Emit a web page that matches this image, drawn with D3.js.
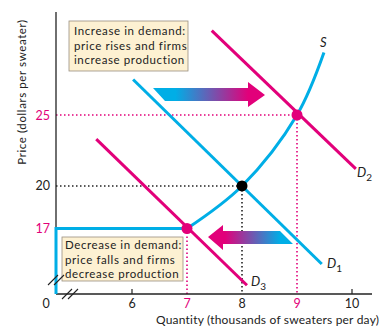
<!DOCTYPE html>
<html>
<head>
<meta charset="utf-8">
<script src="https://cdn.jsdelivr.net/npm/d3@7"></script>
<style>
  html, body { margin: 0; padding: 0; background: #fff; }
  svg { display: block; }
  text { font-family: Lato, "Open Sans", sans-serif; }
  .wide { letter-spacing: 0.6px; }
</style>
</head>
<body>
<svg id="chart" width="380" height="327"></svg>
<script>
// ---- data ----
const quantityTicks = [6, 7, 8, 9, 10];
const quantityTickColors = ["#222", "#e2007a", "#222", "#e2007a", "#222"];
const priceTicks = [17, 20, 25];
const priceTickColors = ["#e2007a", "#222", "#e2007a"];

// supply curve S
const supplyQ = [7, 8, 9, 9.49];
const supplyP = [17, 20, 25, 29.4];

// demand curves (end points)
const d1Q = [6.02, 9.45];
const d1P = [27.5, 14.5];
const d2Q = [7.45, 10.07];
const d2P = [30.95, 21.2];
const d3Q = [5.35, 8.09];
const d3P = [23.3, 13.0];

// equilibria
const eqQ = [8, 9, 7];
const eqP = [20, 25, 17];
const eqColors = ["#000", "#e2007a", "#e2007a"];

const boxUpper = ["Increase in demand:", "price rises and firms", "increase production"];
const boxLower = ["Decrease in demand:", "price falls and firms", "decrease production"];

// ---- layout ----
const BLUE = "#00aee6", MAG = "#e2007a";
const originX = 56, originY = 294, topY = 12, rightX = 372;

const svg = d3.select("#chart");
const x = d3.scaleLinear().domain([6, 10]).range([132, 352]);
const y = d3.scaleLinear().domain([17, 25]).range([228.5, 115]);

const defs = svg.append("defs");
function grad(id, c0, c1) {
  const g = defs.append("linearGradient").attr("id", id)
    .attr("x1", "0%").attr("x2", "100%").attr("y1", "0%").attr("y2", "0%");
  g.append("stop").attr("offset", "0%").attr("stop-color", c0);
  g.append("stop").attr("offset", "20%").attr("stop-color", c0);
  g.append("stop").attr("offset", "85%").attr("stop-color", c1);
  g.append("stop").attr("offset", "100%").attr("stop-color", c1);
}
grad("gRight", BLUE, MAG);
grad("gLeft", MAG, BLUE);

// ---- dotted guide lines ----
const guides = svg.append("g");
eqQ.forEach((q, i) => {
  const col = eqColors[i] === "#000" ? "#222" : MAG;
  if (q !== 7) {
    guides.append("line")
      .attr("x1", originX).attr("x2", x(q))
      .attr("y1", y(eqP[i])).attr("y2", y(eqP[i]))
      .attr("stroke", col).attr("stroke-width", 1.6).attr("stroke-dasharray", "1.5,2.5");
  }
  guides.append("line")
    .attr("x1", x(q)).attr("x2", x(q))
    .attr("y1", y(eqP[i])).attr("y2", originY)
    .attr("stroke", col).attr("stroke-width", 1.6).attr("stroke-dasharray", "1.5,2.5");
});

// ---- axes ----
svg.append("line").attr("x1", originX).attr("x2", originX)
  .attr("y1", topY).attr("y2", originY).attr("stroke", "#222").attr("stroke-width", 1.3);
svg.append("line").attr("x1", originX).attr("x2", rightX)
  .attr("y1", originY).attr("y2", originY).attr("stroke", "#222").attr("stroke-width", 1.3);

// small ticks at 6 and 10
[6, 10].forEach(q => {
  svg.append("line").attr("x1", x(q)).attr("x2", x(q))
    .attr("y1", originY - 5).attr("y2", originY).attr("stroke", "#222").attr("stroke-width", 1.2);
});

quantityTicks.forEach((q, i) => {
  svg.append("text").attr("x", x(q)).attr("y", 308)
    .attr("text-anchor", "middle").attr("font-size", 12.5)
    .attr("fill", quantityTickColors[i]).text(q);
});
svg.append("text").attr("x", 46).attr("y", 308)
  .attr("text-anchor", "middle").attr("font-size", 12.5).attr("fill", "#222").text("0");

priceTicks.forEach((p, i) => {
  svg.append("text").attr("x", 50).attr("y", y(p) + 4.5)
    .attr("text-anchor", "end").attr("font-size", 12.5)
    .attr("fill", priceTickColors[i]).text(p);
});

svg.append("text").attr("x", 156).attr("y", 324)
  .attr("font-size", 12).attr("fill", "#222").style("letter-spacing", "0.2px")
  .text("Quantity (thousands of sweaters per day)");
svg.append("text").attr("class", "wide")
  .attr("transform", "translate(26,92) rotate(-90)")
  .attr("text-anchor", "middle").attr("font-size", 11.5).attr("fill", "#222")
  .text("Price (dollars per sweater)");

// ---- lower text box with blue frame ----
svg.append("rect").attr("x", 62).attr("y", 237).attr("width", 121).attr("height", 44)
  .attr("fill", "#fdf1d2").attr("stroke", "#9a9080").attr("stroke-width", 0.8);
boxLower.forEach((t, i) => {
  svg.append("text").attr("class", "wide").attr("x", 65).attr("y", 249 + i * 14.5)
    .attr("font-size", 11.5).attr("fill", "#222").text(t);
});
svg.append("path")
  .attr("d", d3.line()([[originX, originY], [originX, y(17)], [x(7), y(17)]]))
  .attr("fill", "none").attr("stroke", BLUE).attr("stroke-width", 3);

// axis break marks
function breakMarks(cx, cy) {
  [-3, 3].forEach(o => {
    svg.append("line")
      .attr("x1", cx + o - 5).attr("y1", cy + 5)
      .attr("x2", cx + o + 5).attr("y2", cy - 5)
      .attr("stroke", "#222").attr("stroke-width", 1.1);
  });
}
breakMarks(originX, 280);
breakMarks(70, originY);

// ---- upper text box ----
svg.append("rect").attr("x", 69).attr("y", 21).attr("width", 119).attr("height", 50)
  .attr("fill", "#fdf1d2").attr("stroke", "#9a9080").attr("stroke-width", 0.8);
boxUpper.forEach((t, i) => {
  svg.append("text").attr("class", "wide").attr("x", 74).attr("y", 35 + i * 14.5)
    .attr("font-size", 11.5).attr("fill", "#222").text(t);
});

// ---- curves ----
const line = d3.line().x(d => x(d[0])).y(d => y(d[1]));
function demand(qs, ps, color) {
  svg.append("path").attr("d", line(qs.map((q, i) => [q, ps[i]])))
    .attr("fill", "none").attr("stroke", color).attr("stroke-width", 3);
}
demand(d1Q, d1P, BLUE);
demand(d2Q, d2P, MAG);
demand(d3Q, d3P, MAG);

svg.append("path")
  .attr("d", line.curve(d3.curveCatmullRom.alpha(0.5))(supplyQ.map((q, i) => [q, supplyP[i]])))
  .attr("fill", "none").attr("stroke", BLUE).attr("stroke-width", 3);

// ---- shift arrows ----
svg.append("path")
  .attr("d", "M153,88 L248,88 L248,82 L265,95 L248,107 L248,101 L165,101 Z")
  .attr("fill", "url(#gRight)");
svg.append("path")
  .attr("d", "M208,237 L223,225 L223,231 L280,231 L293,244 L223,244 L223,250 Z")
  .attr("fill", "url(#gLeft)");

// ---- equilibrium points ----
eqQ.forEach((q, i) => {
  svg.append("circle").attr("cx", x(q)).attr("cy", y(eqP[i])).attr("r", 5.5)
    .attr("fill", eqColors[i]);
});

// ---- curve labels ----
function curveLabel(px, py, main, sub) {
  const t = svg.append("text").attr("x", px).attr("y", py)
    .attr("font-size", 13).attr("font-style", "italic").attr("fill", "#222");
  t.append("tspan").text(main);
  if (sub) t.append("tspan").attr("dy", 4).attr("font-size", 10).attr("font-style", "normal").text(sub);
}
curveLabel(320, 47, "S");
curveLabel(357, 177, "D", "2");
curveLabel(327, 268, "D", "1");
curveLabel(251, 286, "D", "3");
</script>
</body>
</html>
